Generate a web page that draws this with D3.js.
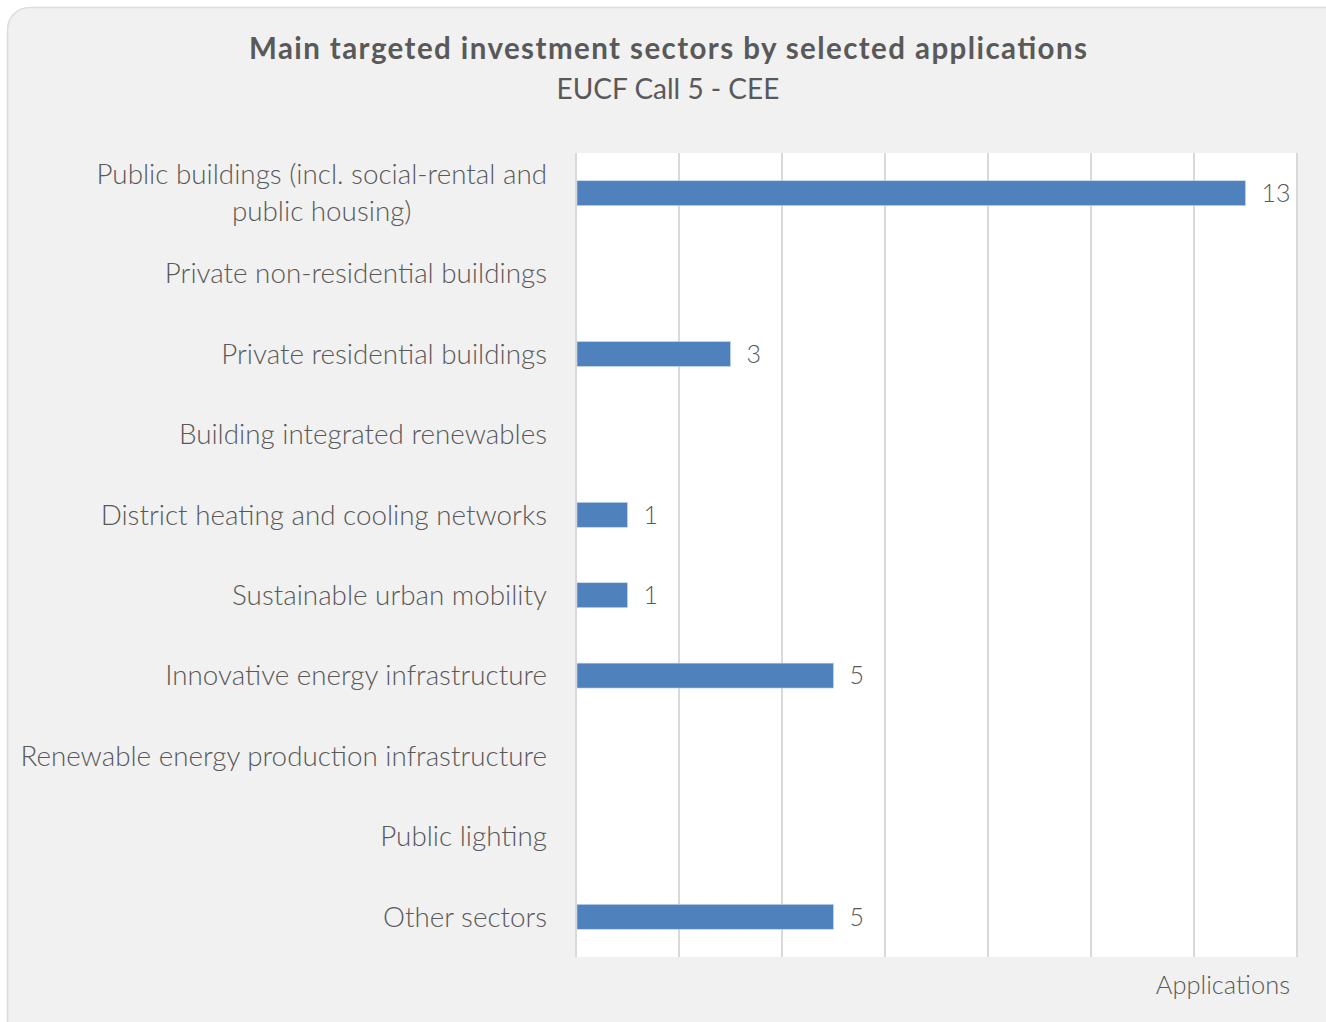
<!DOCTYPE html>
<html><head><meta charset="utf-8">
<script src="https://cdn.jsdelivr.net/npm/d3@7"></script>
<style>
html,body{margin:0;padding:0;background:#fff;}
svg{display:block;font-family:"Source Sans Pro",Lato,sans-serif;}
</style></head>
<body>
<svg id="chart" width="1326" height="1022"></svg>
<script>
const categories = [
  ["Public buildings (incl. social-rental and", "public housing)"],
  ["Private non-residential buildings"],
  ["Private residential buildings"],
  ["Building integrated renewables"],
  ["District heating and cooling networks"],
  ["Sustainable urban mobility"],
  ["Innovative energy infrastructure"],
  ["Renewable energy production infrastructure"],
  ["Public lighting"],
  ["Other sectors"]
];
const values = [13, 0, 3, 0, 1, 1, 5, 0, 0, 5];
const xTicks = [0, 2, 4, 6, 8, 10, 12, 14];
const title = "Main targeted investment sectors by selected applications";
const subtitle = "EUCF Call 5 - CEE";
const axisTitle = "Applications";

const svg = d3.select("#chart");
const W = 1326, H = 1022;
const m = {left: 576, right: 1297, top: 153, bottom: 957};

svg.append("rect").attr("x", 7.5).attr("y", 7.5).attr("width", W + 20).attr("height", H + 20)
  .attr("rx", 22).attr("fill", "#f1f1f1").attr("stroke", "#dcdcdc").attr("stroke-width", 1.5);

const x = d3.scaleLinear().domain([0, 14]).range([m.left, m.right]);
const y = d3.scaleBand().domain(d3.range(categories.length)).range([m.top, m.bottom]).paddingInner(0.69).paddingOuter(0.345);

svg.append("rect").attr("x", m.left).attr("y", m.top).attr("width", m.right - m.left).attr("height", m.bottom - m.top).attr("fill", "#fff");

// gridlines
svg.append("g").selectAll("line").data(xTicks).join("line")
  .attr("x1", d => x(d)).attr("x2", d => x(d)).attr("y1", m.top).attr("y2", m.bottom)
  .attr("stroke", "#d9d9d9").attr("stroke-width", 2);

// bars
svg.append("g").selectAll("rect").data(values.map((v, i) => ({v, i})).filter(d => d.v > 0)).join("rect")
  .attr("x", x(0) + 1).attr("y", d => y(d.i)).attr("width", d => x(d.v) - x(0) - 1).attr("height", y.bandwidth())
  .attr("fill", "#4f81bd").attr("stroke", "#c9d7ea").attr("stroke-width", 0.6);

// value labels
svg.append("g").selectAll("text").data(values.map((v, i) => ({v, i})).filter(d => d.v > 0)).join("text")
  .attr("x", d => x(d.v) + 16).attr("y", d => y(d.i) + y.bandwidth() / 2)
  .attr("dy", "0.35em").attr("font-size", 25).attr("font-weight", 300).attr("fill", "#595959")
  .text(d => d.v);

// category labels (multi-line labels are centred within their block, block right-aligned)
const labelRight = 547;
const cl = svg.append("g").selectAll("text").data(categories).join("text")
  .attr("font-size", 27.8).attr("font-weight", 300).attr("fill", "#595959")
  .attr("text-anchor", d => d.length > 1 ? "middle" : "end")
  .attr("y", (d, i) => y(i) + y.bandwidth() / 2 - (d.length - 1) * 18.5);
cl.selectAll("tspan").data(d => d).join("tspan")
  .attr("x", labelRight).attr("dy", (d, j) => j === 0 ? "0.35em" : "37px").text(d => d);
cl.each(function(d) {
  if (d.length > 1) {
    const w = this.getBBox().width;
    d3.select(this).selectAll("tspan").attr("x", labelRight - w / 2);
  }
});

// title
svg.append("text").attr("x", 668).attr("y", 59).attr("text-anchor", "middle")
  .attr("font-size", 29.5).attr("font-weight", 700).attr("fill", "#595959")
  .attr("textLength", 838).attr("lengthAdjust", "spacing").text(title);
svg.append("text").attr("x", 668).attr("y", 99).attr("text-anchor", "middle")
  .attr("font-size", 28).attr("font-weight", 400).attr("fill", "#595959").text(subtitle);

// axis title
svg.append("text").attr("x", 1290).attr("y", 994).attr("text-anchor", "end")
  .attr("font-size", 25.5).attr("font-weight", 300).attr("fill", "#595959").text(axisTitle);
</script>
</body></html>
